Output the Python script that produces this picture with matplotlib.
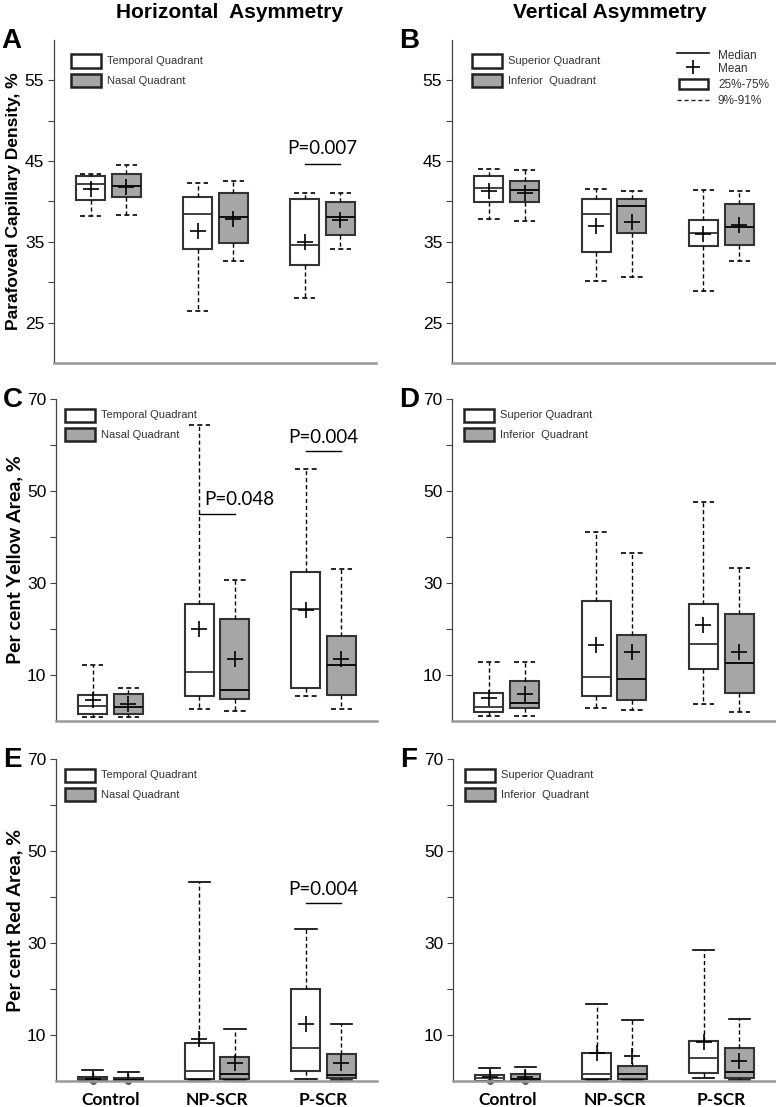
import matplotlib.pyplot as plt
from matplotlib.patches import Rectangle
from matplotlib.lines import Line2D

plt.rcParams['font.family'] = ['Liberation Sans', 'DejaVu Sans']

# categories
groups = ['Control', 'NP-SCR', 'P-SCR']

# stats per group: 9th pct, 25th pct, median, 75th pct, 91st pct, mean
# A: parafoveal capillary density, horizontal
a_temporal = [[38.2, 40.2, 42.2, 43.1, 43.45, 41.6],
              [26.4, 34.1, 38.4, 40.6, 42.3, 36.4],
              [28.0, 32.1, 34.6, 40.25, 41.0, 35.0]]
a_nasal = [[38.3, 40.5, 41.9, 43.45, 44.5, 41.8],
           [32.6, 34.85, 38.05, 41.0, 42.6, 37.8],
           [34.1, 35.9, 38.1, 39.9, 41.0, 37.7]]
# B: parafoveal capillary density, vertical
b_superior = [[37.85, 39.9, 41.7, 43.1, 44.0, 41.3],
              [30.2, 33.7, 38.45, 40.25, 41.6, 37.0],
              [28.9, 34.5, 36.1, 37.75, 41.4, 36.0]]
b_inferior = [[37.6, 39.95, 41.45, 42.5, 43.9, 41.1],
              [30.6, 36.1, 39.4, 40.25, 41.25, 37.5],
              [32.65, 34.6, 36.9, 39.7, 41.25, 37.1]]
# C: per cent yellow area, horizontal
c_temporal = [[0.9, 1.6, 3.2, 5.6, 12.2, 4.5],
              [2.7, 5.4, 10.6, 25.4, 64.3, 20.1],
              [5.5, 7.1, 24.35, 32.3, 54.8, 24.1]]
c_nasal = [[0.9, 1.6, 3.1, 5.8, 7.1, 3.8],
           [2.2, 4.7, 6.7, 22.2, 30.7, 13.5],
           [2.7, 5.6, 12.2, 18.5, 33.1, 13.5]]
# D: per cent yellow area, vertical
d_superior = [[1.05, 1.9, 3.0, 6.0, 12.9, 5.05],
              [2.9, 5.4, 9.6, 26.0, 41.1, 16.5],
              [3.8, 11.2, 16.7, 25.4, 47.6, 20.9]]
d_inferior = [[1.05, 2.9, 4.0, 8.75, 12.9, 5.8],
              [2.5, 4.5, 9.1, 18.7, 36.5, 15.1],
              [2.0, 6.1, 12.7, 23.3, 33.3, 15.1]]
# E: per cent red area, horizontal
e_temporal = [[0.05, 0.15, 0.35, 0.8, 2.4, 0.5],
              [0.2, 0.4, 2.2, 8.2, 43.2, 9.1],
              [0.4, 2.2, 7.1, 19.9, 33.0, 12.5]]
e_nasal = [[0.05, 0.1, 0.3, 0.55, 1.9, 0.3],
           [0.2, 0.35, 1.5, 5.3, 11.4, 4.0],
           [0.2, 0.75, 1.3, 5.85, 12.5, 4.0]]
# F: per cent red area, vertical
f_superior = [[0.05, 0.1, 0.55, 1.2, 2.9, 0.9],
              [0.2, 0.4, 1.5, 6.0, 16.7, 6.15],
              [0.7, 1.8, 5.0, 8.75, 28.5, 8.5]]
f_inferior = [[0.05, 0.1, 0.35, 1.5, 3.0, 0.9],
              [0.2, 0.35, 1.5, 3.3, 13.2, 5.4],
              [0.2, 0.7, 1.9, 7.2, 13.4, 4.4]]
# outlying points at the bottom of the control boxes (E, F)
control_fliers = [0.0]

# significance bars: (group index, bar height, label)
a_pvals = [(2, 44.65, 'P=0.007')]
c_pvals = [(1, 45.0, 'P=0.048'), (2, 58.6, 'P=0.004')]
e_pvals = [(2, 38.65, 'P=0.004')]

W, H = 776, 1107
fig = plt.figure(figsize=(W / 100, H / 100), dpi=100)

GREY = '#a6a6a6'
OFF = 0.167


def make_ax(left, top, right, bottom):
    return fig.add_axes([left / W, 1 - bottom / H, (right - left) / W, (bottom - top) / H])


def draw_series(ax, stats, offset, face, medc, capls, fliers=False):
    bx = []
    for i, s in enumerate(stats):
        fl = control_fliers if (fliers and i == 0) else []
        bx.append(dict(whislo=s[0], q1=s[1], med=s[2], q3=s[3], whishi=s[4],
                       mean=s[5], fliers=fl))
    pos = [i + 1 + offset for i in range(len(stats))]
    ax.bxp(bx, positions=pos, widths=0.27, capwidths=0.2, showmeans=True,
           showfliers=True, patch_artist=True, manage_ticks=False,
           boxprops=dict(facecolor=face, edgecolor='#333333', linewidth=1.5),
           medianprops=dict(color=medc, linewidth=1.3),
           whiskerprops=dict(color='black', linestyle=(0, (3, 2)), linewidth=1.0),
           capprops=dict(color='black', linestyle=capls, linewidth=1.2),
           meanprops=dict(marker='+', markeredgecolor='black', markersize=11,
                          markeredgewidth=1.2),
           flierprops=dict(marker='o', markersize=4, markerfacecolor='#777777',
                           markeredgecolor='#555555', clip_on=False))


def quad_legend(ax, names, dx, dy):
    bb = ax.get_position()
    aw, ah = bb.width * W, bb.height * H
    for k, (name, face) in enumerate(zip(names, ['white', GREY])):
        cy = dy + 19.5 * k
        ax.add_patch(Rectangle((dx / aw, 1 - (cy + 6.5) / ah), 30 / aw, 13 / ah,
                               transform=ax.transAxes, facecolor=face,
                               edgecolor='#222222', lw=1.8, clip_on=False))
        ax.text((dx + 36) / aw, 1 - cy / ah, name, transform=ax.transAxes,
                va='center', ha='left', fontsize=8, color='#333333')


def style_ax(ax, ylim, majors, minors, bottom_row):
    ax.set_xlim(0.49, 3.5)
    ax.set_ylim(*ylim)
    for s in ['top', 'right']:
        ax.spines[s].set_visible(False)
    ax.spines['left'].set_color('#444444')
    ax.spines['left'].set_linewidth(0.9)
    ax.spines['bottom'].set_color('#999999')
    ax.spines['bottom'].set_linewidth(1.8)
    ax.set_yticks(majors)
    ax.set_yticks(minors, minor=True)
    ax.set_yticklabels([str(m) for m in majors])
    ax.tick_params(axis='y', which='both', direction='out', length=4, width=0.8,
                   color='#444444', labelsize=12.5, pad=3)
    if bottom_row:
        ax.set_xticks([1, 2, 3])
        ax.set_xticklabels(groups, fontweight='bold', fontsize=12.5, family='Lato')
        ax.tick_params(axis='x', length=0, pad=8)
    else:
        ax.set_xticks([])


def pvalue(ax, gi, y, label, dy, left=False):
    x0, x1 = gi + 1 - OFF, gi + 1 + OFF
    ax.plot([x0, x1], [y, y], color='black', lw=1.0)
    if left:
        ax.text(x0 + 0.045, y + dy, label, ha='left', va='bottom', fontsize=13.5,
                family='Lato')
    else:
        ax.text(gi + 1, y + dy, label, ha='center', va='bottom', fontsize=13.5,
                family='Lato')


horiz = ['Temporal Quadrant', 'Nasal Quadrant']
vert = ['Superior Quadrant', 'Inferior  Quadrant']

panels = [
    dict(letter='A', rect=(54, 40, 376, 363), ylim=(20, 60), majors=[25, 35, 45, 55],
         minors=[30, 40, 50], s1=a_temporal, s2=a_nasal, names=horiz, leg=(17, 21),
         ylabel='Parafoveal Capillary Density, %', yfont='Liberation Sans', ysize=12.5,
         caps=(0, (3, 2)), fl=False, bottom=False),
    dict(letter='B', rect=(452, 40, 775, 363), ylim=(20, 60), majors=[25, 35, 45, 55],
         minors=[30, 40, 50], s1=b_superior, s2=b_inferior, names=vert, leg=(20, 21),
         ylabel=None, caps=(0, (3, 2)), fl=False, bottom=False),
    dict(letter='C', rect=(56, 399, 377, 721), ylim=(0, 70), majors=[10, 30, 50, 70],
         minors=[20, 40, 60], s1=c_temporal, s2=c_nasal, names=horiz, leg=(9, 16),
         ylabel='Per cent Yellow Area, %', yfont='Lato', ysize=14, caps=(0, (3, 2)),
         fl=False, bottom=False),
    dict(letter='D', rect=(452, 399, 775, 721), ylim=(0, 70), majors=[10, 30, 50, 70],
         minors=[20, 40, 60], s1=d_superior, s2=d_inferior, names=vert, leg=(12, 16),
         ylabel=None, caps=(0, (3, 2)), fl=False, bottom=False),
    dict(letter='E', rect=(56, 759, 377, 1081), ylim=(0, 70), majors=[10, 30, 50, 70],
         minors=[20, 40, 60], s1=e_temporal, s2=e_nasal, names=horiz, leg=(9, 16),
         ylabel='Per cent Red Area, %', yfont='Lato', ysize=14, caps='-', fl=True,
         bottom=True),
    dict(letter='F', rect=(453, 759, 775, 1081), ylim=(0, 70), majors=[10, 30, 50, 70],
         minors=[20, 40, 60], s1=f_superior, s2=f_inferior, names=vert, leg=(12, 16),
         ylabel=None, caps='-', fl=True, bottom=True),
]

axes = {}
for p in panels:
    ax = make_ax(*p['rect'])
    axes[p['letter']] = ax
    draw_series(ax, p['s1'], -OFF, 'white', '#333333', p['caps'], p['fl'])
    draw_series(ax, p['s2'], OFF, GREY, 'black', p['caps'], p['fl'])
    style_ax(ax, p['ylim'], p['majors'], p['minors'], p['bottom'])
    quad_legend(ax, p['names'], *p['leg'])
    if p['ylabel']:
        ax.set_ylabel(p['ylabel'], fontsize=p['ysize'], fontweight='bold',
                      family=p['yfont'])
        ax.yaxis.set_label_coords(-0.103, 0.5)
    left, top = p['rect'][0], p['rect'][1]
    fig.text((left - 53) / W, 1 - (top - 12) / H, p['letter'], ha='left', va='top',
             fontsize=20, fontweight='bold')

for gi, y, lab in a_pvals:
    pvalue(axes['A'], gi, y, lab, 0.9)
for k, (gi, y, lab) in enumerate(c_pvals):
    pvalue(axes['C'], gi, y, lab, 1.2, left=(k == 0))
for gi, y, lab in e_pvals:
    pvalue(axes['E'], gi, y, lab, 1.2)

# key for the box elements (panel B)
axb = axes['B']
bb = axb.get_position()
aw, ah = bb.width * W, bb.height * H
tr = axb.transAxes
axb.add_line(Line2D([225 / aw, 257 / aw], [1 - 13 / ah] * 2, transform=tr,
                    color='#222222', lw=1.3))
axb.add_line(Line2D([241 / aw], [1 - 27 / ah], transform=tr, marker='+',
                    markersize=10, markeredgewidth=1.2, color='black'))
axb.add_patch(Rectangle((227 / aw, 1 - 49 / ah), 29 / aw, 10 / ah, transform=tr,
                        facecolor='white', edgecolor='#222222', lw=1.8))
axb.add_line(Line2D([225 / aw, 257 / aw], [1 - 60 / ah] * 2, transform=tr,
                    color='#222222', lw=1.0, linestyle=(0, (3, 2))))
for dyy, t in zip([16, 29, 45, 61], ['Median', 'Mean', '25%-75%', '9%-91%']):
    axb.text(266 / aw, 1 - dyy / ah, t, transform=tr, ha='left', va='center',
             fontsize=8.5, color='#333333')

fig.text(230 / W, 1 - 13 / H, 'Horizontal  Asymmetry', ha='center', va='center',
         fontsize=15, fontweight='bold')
fig.text(610 / W, 1 - 13 / H, 'Vertical Asymmetry', ha='center', va='center',
         fontsize=15, fontweight='bold')

fig.savefig('out.png', dpi=100)
